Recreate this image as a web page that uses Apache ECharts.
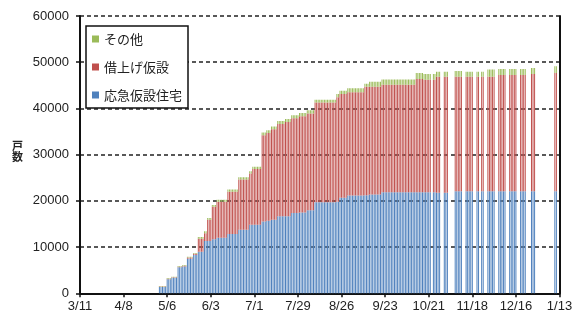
<!DOCTYPE html>
<html>
<head>
<meta charset="utf-8">
<script src="https://cdn.jsdelivr.net/npm/echarts@6/dist/echarts.min.js"></script>
<style>
  html, body { margin: 0; padding: 0; background: #fff; }
  #chart { width: 575px; height: 315px; }
</style>
</head>
<body>
<div id="chart"></div>
<script>
// 仮設住宅の戸数 (2011/3/11 ～ 2012/1/13)
const tickLabels = ['3/11', '4/8', '5/6', '6/3', '7/1', '7/29', '8/26', '9/23', '10/21', '11/18', '12/16', '1/13'];

const dates = [
    '5/1','5/2','5/3','5/4','5/5','5/6','5/7','5/8','5/9','5/10','5/11','5/12','5/13','5/14','5/15','5/16','5/17','5/18','5/19','5/20','5/21','5/22','5/23','5/24','5/25','5/26','5/27','5/28','5/29','5/30','5/31',
    '6/1','6/2','6/3','6/4','6/5','6/6','6/7','6/8','6/9','6/10','6/11','6/12','6/13','6/14','6/15','6/16','6/17','6/18','6/19','6/20','6/21','6/22','6/23','6/24','6/25','6/26','6/27','6/28','6/29','6/30',
    '7/1','7/2','7/3','7/4','7/5','7/6','7/7','7/8','7/9','7/10','7/11','7/12','7/13','7/14','7/15','7/16','7/17','7/18','7/19','7/20','7/21','7/22','7/23','7/24','7/25','7/26','7/27','7/28','7/29','7/30','7/31',
    '8/1','8/2','8/3','8/4','8/5','8/6','8/7','8/8','8/9','8/10','8/11','8/12','8/13','8/14','8/15','8/16','8/17','8/18','8/19','8/20','8/21','8/22','8/23','8/24','8/25','8/26','8/27','8/28','8/29','8/30','8/31',
    '9/1','9/2','9/3','9/4','9/5','9/6','9/7','9/8','9/9','9/10','9/11','9/12','9/13','9/14','9/15','9/16','9/17','9/18','9/19','9/20','9/21','9/22','9/23','9/24','9/25','9/26','9/27','9/28','9/29','9/30',
    '10/1','10/2','10/3','10/4','10/5','10/6','10/7','10/8','10/9','10/10','10/11','10/12','10/13','10/14','10/15','10/16','10/17','10/18','10/19','10/20','10/21','10/22',
    '10/24','10/25','10/26','10/27','10/28','10/31','11/1','11/2','11/7','11/8','11/9','11/10','11/11','11/14','11/15','11/16','11/17','11/18',
    '11/21','11/22','11/24','11/25','11/28','11/29','11/30','12/1','12/2','12/5','12/6','12/7','12/8','12/9','12/12','12/13','12/14','12/15','12/16',
    '12/19','12/20','12/21','12/22','12/26','12/27','12/28','1/10','1/11'
];

// 応急仮設住宅
const kasetsu = [
    1350,1350,1350,1350,1350,3050,3050,3050,3350,3350,3350,3350,5650,5650,5650,5800,5800,5800,7500,7500,7500,7500,8300,8300,8300,9000,9000,9000,9000,11300,11300,
    11300,11300,11300,11700,11700,11700,12000,12000,12000,12000,12000,12000,12000,12850,12850,12850,12850,12850,12850,12850,13750,13750,13750,13750,13750,13750,13750,14850,14850,14850,
    14850,14850,14850,14850,14850,15550,15550,15550,15700,15700,15700,15900,15900,15900,15900,16650,16650,16650,16650,16650,16650,16650,16650,16650,17400,17400,17400,17400,17400,17500,17500,
    17500,17500,17500,17950,17950,17950,17950,17950,19700,19700,19700,19700,19700,19700,19700,19700,19700,19700,19700,19700,19700,19700,19800,19800,20650,20650,20650,20650,20650,21150,21150,
    21150,21150,21150,21150,21150,21150,21150,21150,21150,21200,21200,21200,21370,21370,21370,21370,21370,21370,21370,21370,21870,21870,21870,21870,21870,21870,21870,21870,21870,21870,
    21870,21870,21870,21870,21870,21870,21870,21870,21870,21870,21870,21870,21870,21870,21870,21870,21870,21870,21870,21870,21870,21870,
    21870,21870,21750,21750,21750,21740,21740,21740,22090,22090,22090,22090,22090,22090,22090,22090,22090,22090,
    22090,22090,22090,22090,22090,22090,22090,22090,22090,22090,22090,22090,22090,22090,22090,22090,22090,22090,22090,
    22090,22090,22090,22090,22090,22090,22090,22090,22090
];

// 借上げ仮設
const kariage = [
    120,120,120,120,120,120,120,120,120,120,120,120,120,120,120,150,150,150,250,250,250,250,250,250,250,2800,2800,2800,2800,1700,1700,
    4600,4600,4600,7000,7000,7000,7800,7800,7800,7800,7800,7800,7800,9100,9100,9100,9100,9100,9100,9100,10850,10850,10850,10850,10850,10850,10850,11050,11050,12050,
    12050,12050,12050,12050,12050,18650,18650,18650,19000,19000,19000,19600,19600,19600,19600,20000,20000,20000,20000,20000,20400,20400,20400,20400,20450,20450,20450,20450,20450,20800,20800,
    20800,20800,20800,20950,20950,20950,20950,20950,21600,21600,21600,21600,21600,21600,21600,21600,21600,21600,21600,21600,21600,21600,22600,22600,22450,22450,22450,22450,22450,22350,22350,
    22350,22350,22350,22350,22350,22350,22350,22350,22350,23500,23500,23500,23330,23330,23330,23330,23330,23330,23330,23330,23260,23260,23260,23260,23260,23260,23260,23260,23260,23260,
    23260,23260,23260,23260,23260,23260,23260,23260,23260,23260,23260,23260,24500,24500,24500,24500,24500,24350,24350,24350,24350,24350,
    24350,24350,25120,25120,25120,25130,25130,25130,24780,24780,24780,24780,24780,24780,24780,24780,24780,24780,
    24780,24780,24780,24780,24780,24780,24780,24780,24780,25150,25150,25150,25150,25150,25150,25150,25150,25150,25150,
    25150,25150,25150,25150,25370,25370,25370,25590,25590
];

// その他
const sonota = [
    130,130,130,130,130,130,130,130,130,130,130,130,150,150,150,150,150,150,150,150,150,150,150,150,150,400,400,400,400,400,400,
    400,400,400,400,400,400,450,450,450,450,450,450,450,500,500,500,500,500,500,500,500,500,500,500,500,500,500,500,500,500,
    500,500,500,500,500,600,600,600,600,600,600,600,600,600,600,650,650,650,650,650,650,650,650,650,650,650,650,650,650,700,700,
    700,700,700,700,700,700,700,700,600,600,600,600,600,600,600,600,600,600,600,600,600,600,700,700,700,700,700,700,700,850,850,
    850,850,850,850,850,850,850,850,850,650,650,650,1100,1100,1100,1100,1100,1100,1100,1100,1150,1150,1150,1150,1150,1150,1150,1150,1150,1150,
    1150,1150,1150,1150,1150,1150,1150,1150,1150,1150,1150,1150,1300,1300,1300,1300,1300,1250,1250,1250,1250,1250,
    1250,1250,1090,1090,1090,1090,1090,1090,1240,1240,1240,1240,1240,1090,1090,1090,1090,1090,
    1090,1090,1090,1090,1530,1530,1530,1530,1530,1310,1310,1310,1310,1310,1310,1310,1310,1310,1310,
    1310,1310,1310,1310,1300,1300,1300,1450,1450
];

// 横軸: 3/11 から 1/13 までの毎日 (データの無い日は空)
const start = Date.UTC(2011, 2, 11);
const DAY = 86400000;
const categories = [];
for (let t = start; t <= Date.UTC(2012, 0, 13); t += DAY) {
    const dt = new Date(t);
    categories.push((dt.getUTCMonth() + 1) + '/' + dt.getUTCDate());
}
const alignToDays = (vals) => {
    const out = categories.map(() => null);
    dates.forEach((s, i) => {
        const [m, d] = s.split('/').map(Number);
        const idx = Math.round((Date.UTC(m < 3 ? 2012 : 2011, m - 1, d) - start) / DAY);
        out[idx] = vals[i];
    });
    return out;
};

const myChart = echarts.init(document.getElementById('chart'));
const labelFont = { color: '#222', fontSize: 13, fontFamily: 'Liberation Sans' };
const barSeries = (name, color, vals) => ({
    name: name,
    type: 'bar',
    stack: 'total',
    barWidth: 1,
    itemStyle: { color: color },
    data: alignToDays(vals)
});

const option = {
    animation: false,
    backgroundColor: '#fff',
    grid: { left: 80, right: 15.5, top: 16, bottom: 21.7, containLabel: false, outerBoundsMode: 'none' },
    legend: {
        orient: 'vertical',
        left: 86, top: 26,
        padding: [5, 6, 5, 6],
        itemGap: 12,
        itemWidth: 7, itemHeight: 7,
        icon: 'rect',
        backgroundColor: '#fff',
        borderColor: '#111',
        borderWidth: 1.5,
        borderRadius: 0,
        textStyle: { color: '#222', fontSize: 13, lineHeight: 16, fontFamily: 'Noto Sans CJK JP' },
        data: ['その他', '借上げ仮設', '応急仮設住宅']
    },
    xAxis: {
        type: 'category',
        data: categories,
        boundaryGap: false,
        axisLine: { show: true, lineStyle: { color: '#111', width: 2 } },
        axisTick: { show: true, interval: 27, length: 4, lineStyle: { color: '#111', width: 1.5 } },
        splitLine: { show: false },
        axisLabel: Object.assign({ margin: 7, interval: 27, formatter: (v, i) => tickLabels[i / 28] }, labelFont)
    },
    yAxis: [{
        type: 'value',
        min: 0, max: 60000, interval: 10000,
        axisLine: { show: true, lineStyle: { color: '#111', width: 2 } },
        axisTick: { show: true, length: 4, lineStyle: { color: '#111', width: 1.5 } },
        splitLine: { show: true, lineStyle: { color: '#222', width: 1.5, type: [4, 3] } },
        axisLabel: Object.assign({ margin: 11, formatter: (v) => String(v) }, labelFont)
    }, {
        type: 'value',
        position: 'right',
        min: 0, max: 60000,
        axisLine: { show: true, lineStyle: { color: '#111', width: 2 } },
        axisTick: { show: false },
        axisLabel: { show: false },
        splitLine: { show: false }
    }],
    graphic: [{
        type: 'text',
        left: 12, top: 140,
        style: { text: '戸\n数', fill: '#222', font: 'bold 11px "Noto Sans CJK JP"', lineHeight: 11 }
    }],
    series: [
        barSeries('応急仮設住宅', '#4F81BD', kasetsu),
        barSeries('借上げ仮設', '#C0504D', kariage),
        barSeries('その他', '#9BBB59', sonota)
    ]
};
myChart.setOption(option);
</script>
</body>
</html>
